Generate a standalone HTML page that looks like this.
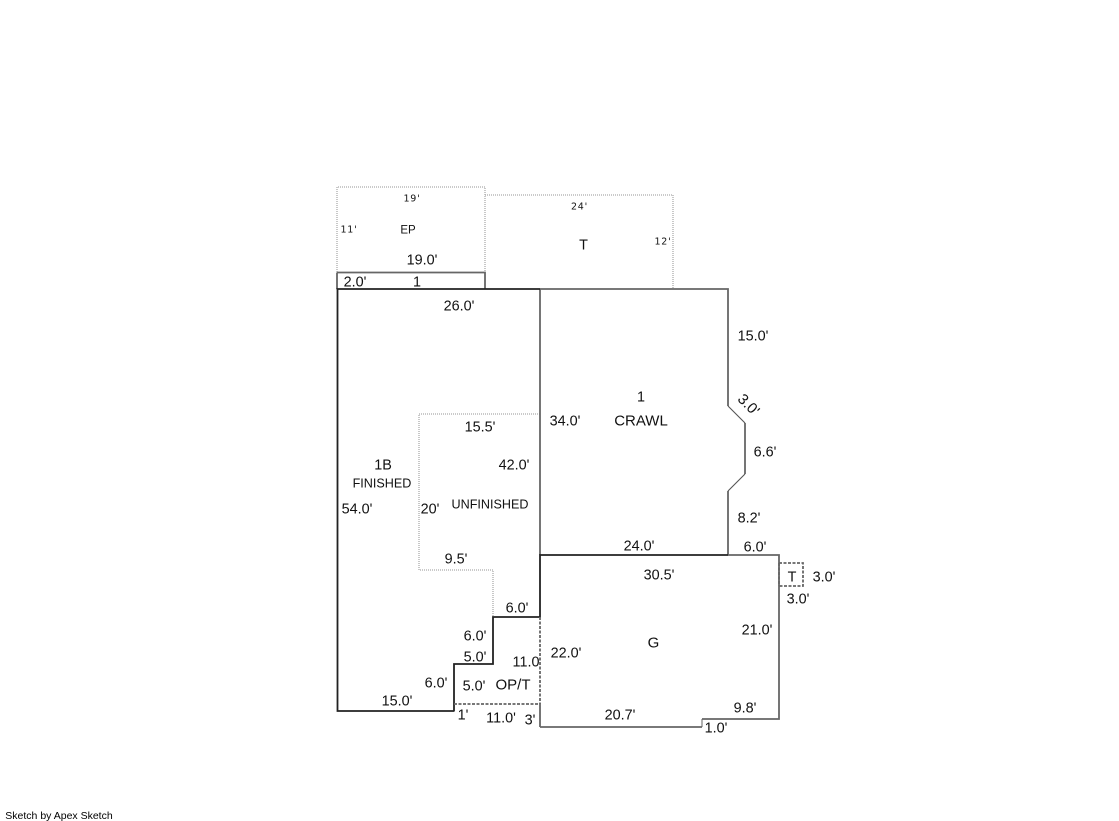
<!DOCTYPE html>
<html><head><meta charset="utf-8"><style>
html,body{margin:0;padding:0;background:#fff}
svg{display:block}
text{font-family:"Liberation Sans",Arial,sans-serif;font-size:14.4px;fill:#111;text-anchor:middle}
.s{font-family:"DejaVu Sans",sans-serif;font-size:9.5px;letter-spacing:.8px}
</style></head><body>
<svg width="1119" height="821" viewBox="0 0 1119 821" xmlns="http://www.w3.org/2000/svg">
<g fill="none">
<g stroke="#aaa" stroke-width="1.3" stroke-dasharray="1 1">
<path d="M337 272V187H485V272"/>
<path d="M485 195H673V289"/>
<path d="M540 414H419V570H493V617"/>
</g>
<g stroke="#666" stroke-width="1.8">
<path d="M337 272.5H485V289M337 272.5V289"/>
<path d="M540 289H728V406"/>
<path d="M540 289V555"/>
<path d="M728 491V555"/>
<path d="M745 423V474"/>
<path d="M728 555H779V719H702"/>
<path d="M702 727H540"/>
<path d="M702 719V727" stroke-width="1"/>
<path d="M540 703V727"/>
</g>
<path d="M336.5 289H540M337.5 289V711H454M454 711.5V664H493V617H540V555H728" stroke="#222" stroke-width="1.8"/>
<g stroke="#666" stroke-width="1.8" stroke-dasharray="3 1.5">
<path d="M454 704H540"/>
<path d="M540 617V704"/>
<path d="M779 563H803V586H779M779 563V586"/>
</g>
<path d="M728 406L745 423M745 474L728 491" stroke="#555" stroke-width="1.1"/>
</g>
<g transform="translate(0,-0.6)">
<text class="s" x="412" y="202">19'</text>
<text class="s" x="579.5" y="210">24'</text>
<text class="s" x="349" y="233">11'</text>
<text class="s" x="663" y="245">12'</text>
<text x="408" y="234" style="font-size:11.5px">EP</text>
<text x="583.5" y="250">T</text>
<text x="422" y="265">19.0'</text>
<text x="355" y="287">2.0'</text>
<text x="417" y="287">1</text>
<text x="459" y="311">26.0'</text>
<text x="753" y="341">15.0'</text>
<text x="641" y="402">1</text>
<text x="641" y="426" style="font-size:15px">CRAWL</text>
<text x="565" y="426">34.0'</text>
<text x="480" y="432">15.5'</text>
<text x="514" y="470">42.0'</text>
<text x="383" y="470">1B</text>
<text x="382" y="488" style="font-size:12.6px">FINISHED</text>
<text x="490" y="509" style="font-size:12.6px">UNFINISHED</text>
<text x="357" y="514">54.0'</text>
<text x="430" y="514">20'</text>
<text x="456" y="564">9.5'</text>
<text x="765" y="457">6.6'</text>
<text x="749" y="523">8.2'</text>
<text x="639" y="551">24.0'</text>
<text x="755" y="552">6.0'</text>
<text x="659" y="580">30.5'</text>
<text x="792" y="582">T</text>
<text x="824" y="582">3.0'</text>
<text x="798" y="604">3.0'</text>
<text x="517" y="613">6.0'</text>
<text x="475" y="641">6.0'</text>
<text x="757" y="635">21.0'</text>
<text x="653.5" y="648" style="font-size:15px">G</text>
<text x="566" y="658">22.0'</text>
<text x="475" y="662">5.0'</text>
<text x="526" y="667">11.0</text>
<text x="436" y="688">6.0'</text>
<text x="474" y="691">5.0'</text>
<text x="513" y="690" style="font-size:15px">OP/T</text>
<text x="397" y="706">15.0'</text>
<text x="745" y="713">9.8'</text>
<text x="620" y="720">20.7'</text>
<text x="463" y="720">1'</text>
<text x="501" y="723">11.0'</text>
<text x="530" y="725">3'</text>
<text x="716" y="733">1.0'</text>
<text x="748" y="406" transform="rotate(45 748 406)" dominant-baseline="middle" style="font-size:15px">3.0'</text>
</g>
<text x="59" y="819" style="font-size:10.5px;fill:#000">Sketch by Apex Sketch</text>
</svg>
</body></html>
